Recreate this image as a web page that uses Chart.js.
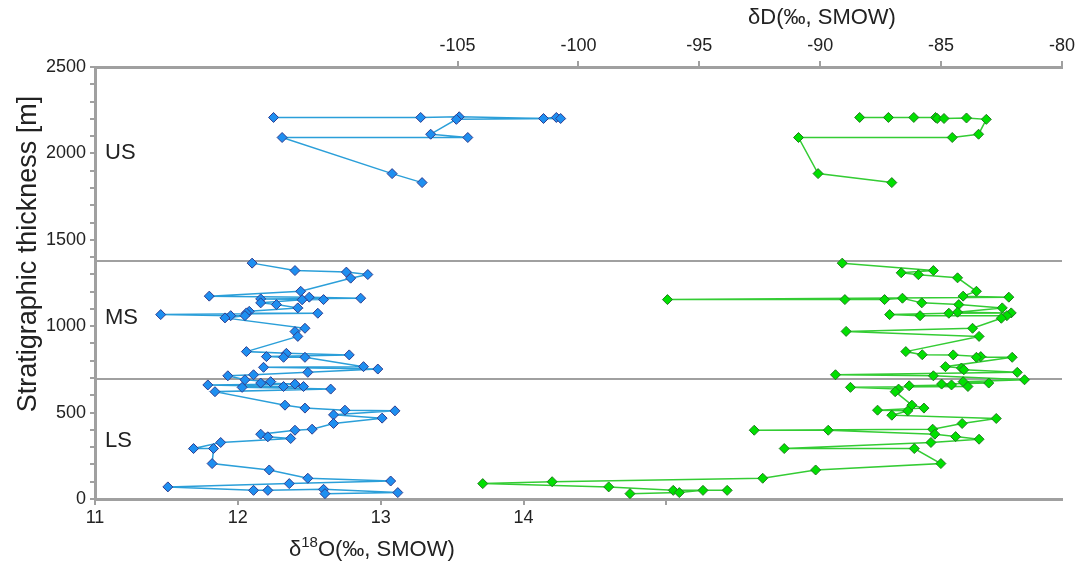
<!DOCTYPE html>
<html>
<head>
<meta charset="utf-8">
<script src="https://cdn.jsdelivr.net/npm/chart.js@4.4.1/dist/chart.umd.min.js"></script>
<style>
  body { margin: 0; background: #fff; }
  canvas { display: block; }
</style>
</head>
<body>
<canvas id="isoChart" width="1079" height="565"></canvas>
<script>
// stratigraphic height (m) and delta18O of each sample
// null = break in the line between upper section and the rest
const heightsO = [
  2208, 2208, 2212, 2202, 2208, 2202, 2197, 2111, 2092, 2092, 1883, 1831, null,
  1365, 1322, 1313, 1299, 1278, 1202, 1174, 1168, 1162, 1158, 1154, 1153,
  1135, 1125, 1106, 1086, 1077, 1075, 1067, 1061, 1061, 1048, 988, 969, 941,
  853, 843, 834, 824, 820, 820, 766, 762, 752, 733, 719, 713, 690,
  679, 671, 665, 660, 651, 651, 646, 636, 621, 543, 526, 514, 510, 487, 468,
  437, 404, 398, 375, 360, 350, 327, 292, 292, 205, 168, 120, 104, 89, 70,
  50, 50, 56, 37, 31
];
const d18O = [
  12.25, 13.28, 13.55, 14.14, 14.23, 14.26, 13.53, 13.35, 13.61, 12.31, 13.08, 13.29, null,
  12.10, 12.40, 12.76, 12.91, 12.79, 12.44, 11.80, 12.50, 12.86, 12.16, 12.60, 12.45,
  12.16, 12.27, 12.42, 12.08, 12.06, 12.56, 11.46, 11.95, 12.05, 11.91, 12.47, 12.40, 12.42,
  12.06, 12.34, 12.78, 12.20, 12.32, 12.47, 12.88, 12.18, 12.98, 12.49, 12.11, 11.93, 12.05,
  12.23, 12.16, 12.40, 11.79, 12.32, 12.46, 12.03, 12.65, 11.84, 12.33, 12.47, 12.75, 13.10, 12.67, 13.01,
  12.67, 12.52, 12.40, 12.16, 12.21, 12.37, 11.88, 11.69, 11.83, 11.82, 12.22, 12.49, 13.07, 12.36, 11.51,
  12.11, 12.21, 12.60, 13.12, 12.61
];

// stratigraphic height (m) and deltaD of each sample
const heightsD = [
  2208, 2208, 2208, 2208, 2202, 2202, 2205, 2197, 2111, 2092, 2092, 1883, 1831, null,
  1365, 1322, 1309, 1298, 1280, 1202, 1174, 1168, 1154, 1154, 1154, 1162,
  1135, 1125, 1106, 1081, 1077, 1075, 1067, 1061, 1061, 1046, 988, 970, 941,
  853, 835, 834, 824, 820, 820, 766, 758, 748, 733, 719, 713, 690,
  679, 671, 665, 660, 655, 651, 646, 636, 621, 543, 526, 514, 510, 485, 466,
  437, 404, 398, 398, 375, 361, 346, 327, 292, 292, 205, 168, 120, 100, 89, 70,
  50, 50, 50, 37, 31
];
const dD = [
  -88.37, -87.18, -86.13, -85.23, -85.16, -84.88, -83.95, -83.13, -83.45, -84.54, -90.90, -90.09, -87.04, null,
  -89.09, -85.32, -86.65, -85.94, -84.32, -83.54, -84.09, -82.20, -96.32, -88.98, -87.34, -86.60,
  -85.80, -84.27, -82.47, -84.32, -82.10, -84.68, -87.13, -85.87, -82.28, -82.51, -83.70, -88.93, -83.43,
  -86.46, -85.78, -84.50, -83.36, -83.54, -82.06, -84.82, -84.16, -84.06, -81.85, -89.37, -85.32, -81.55,
  -84.09, -83.03, -84.98, -84.57, -86.32, -83.89, -88.75, -86.76, -86.90, -86.21, -85.71, -87.63, -86.38, -87.04, -82.72,
  -84.13, -85.35, -92.73, -89.67, -85.26, -84.40, -83.43, -85.42, -91.49, -86.11, -85.01, -90.19, -92.38, -101.09, -103.96, -98.75,
  -96.08, -93.85, -94.85, -95.83, -97.87
];

// unit boundaries (m) and unit names
const boundaries = [1380, 695];
const units = ["US", "MS", "LS"];
const unitHeights = [2005, 1045, 337];

const AXIS_GRAY = "#a0a0a0";
const FONT = "'Liberation Sans', Arial, Helvetica, sans-serif";

const extras = {
  id: "extras",
  beforeDatasetsDraw(chart) {
    const { ctx, chartArea, scales } = chart;
    ctx.save();
    ctx.strokeStyle = AXIS_GRAY;
    ctx.lineWidth = 2;
    boundaries.forEach((b) => {
      const py = Math.round(scales.y.getPixelForValue(b));
      ctx.beginPath();
      ctx.moveTo(chartArea.left, py);
      ctx.lineTo(chartArea.right, py);
      ctx.stroke();
    });
    ctx.restore();
  },
  afterDraw(chart) {
    const { ctx, scales } = chart;
    ctx.save();
    ctx.fillStyle = "#222";
    ctx.textBaseline = "middle";

    ctx.font = "22px " + FONT;
    ctx.textAlign = "left";
    units.forEach((u, i) => {
      ctx.fillText(u, 105, scales.y.getPixelForValue(unitHeights[i]));
    });

    // top axis title
    ctx.textAlign = "center";
    ctx.fillText("δD(‰, SMOW)", 822, 18);

    // bottom axis title with superscript
    let x = 289;
    const yb = 550;
    ctx.textAlign = "left";
    ctx.font = "22px " + FONT;
    ctx.fillText("δ", x, yb);
    x += ctx.measureText("δ").width;
    ctx.font = "15px " + FONT;
    ctx.fillText("18", x, yb - 7);
    x += ctx.measureText("18").width;
    ctx.font = "22px " + FONT;
    ctx.fillText("O(‰, SMOW)", x, yb);

    // y axis title
    ctx.font = "27px " + FONT;
    ctx.translate(29, 254);
    ctx.rotate(-Math.PI / 2);
    ctx.textAlign = "center";
    ctx.fillText("Stratigraphic thickness [m]", 0, 0);
    ctx.restore();
  }
};

function toPoints(xs, ys) {
  return xs.map((v, i) => (v === null ? { x: null, y: null } : { x: v, y: ys[i] }));
}

const ctx = document.getElementById("isoChart").getContext("2d");
new Chart(ctx, {
  type: "scatter",
  data: {
    datasets: [
      {
        label: "d18O",
        data: toPoints(d18O, heightsO),
        xAxisID: "x",
        showLine: true,
        spanGaps: false,
        borderColor: "#2b9fd9",
        borderWidth: 1.5,
        pointStyle: "rectRot",
        pointRadius: 5,
        pointBackgroundColor: "#1e8ff0",
        pointBorderColor: "#2f3d8f",
        pointBorderWidth: 1
      },
      {
        label: "dD",
        data: toPoints(dD, heightsD),
        xAxisID: "x2",
        showLine: true,
        spanGaps: false,
        borderColor: "#34cc34",
        borderWidth: 1.5,
        pointStyle: "rectRot",
        pointRadius: 5,
        pointBackgroundColor: "#00e000",
        pointBorderColor: "#217a21",
        pointBorderWidth: 1
      }
    ]
  },
  options: {
    responsive: false,
    animation: false,
    layout: { padding: { left: 0, right: 13, top: 0, bottom: 0 } },
    plugins: { legend: { display: false }, tooltip: { enabled: false } },
    scales: {
      y: {
        position: "left",
        min: 0,
        max: 2500,
        afterFit: (s) => { s.width = 95; },
        ticks: {
          stepSize: 100,
          autoSkip: false,
          color: "#222",
          font: { family: FONT, size: 18 },
          padding: 4,
          callback: (v) => (v % 500 === 0 ? String(v) : "")
        },
        grid: { drawOnChartArea: false, tickLength: 5, color: AXIS_GRAY, lineWidth: 2 },
        border: { color: AXIS_GRAY, width: 3 }
      },
      x: {
        type: "linear",
        position: "bottom",
        min: 11,
        max: 17.77,
        afterFit: (s) => { s.height = 66; },
        ticks: {
          stepSize: 1,
          autoSkip: false,
          color: "#222",
          font: { family: FONT, size: 18 },
          padding: 2,
          maxRotation: 0,
          callback: (v) => (v <= 14 ? String(v) : "")
        },
        grid: {
          drawOnChartArea: false,
          tickLength: 6,
          lineWidth: 2,
          color: (c) => (c.tick && c.tick.value <= 15 ? AXIS_GRAY : "rgba(0,0,0,0)")
        },
        border: { color: AXIS_GRAY, width: 3 }
      },
      x2: {
        type: "linear",
        position: "top",
        min: -120,
        max: -80,
        afterFit: (s) => { s.height = 67; },
        ticks: {
          stepSize: 5,
          autoSkip: false,
          color: "#222",
          font: { family: FONT, size: 18 },
          padding: 4,
          maxRotation: 0,
          callback: (v) => (v >= -105 ? String(v) : "")
        },
        grid: {
          drawOnChartArea: false,
          tickLength: 6,
          lineWidth: 2,
          color: (c) => (c.tick && c.tick.value >= -105 ? AXIS_GRAY : "rgba(0,0,0,0)")
        },
        border: { color: AXIS_GRAY, width: 3 }
      }
    }
  },
  plugins: [extras]
});
</script>
</body>
</html>
